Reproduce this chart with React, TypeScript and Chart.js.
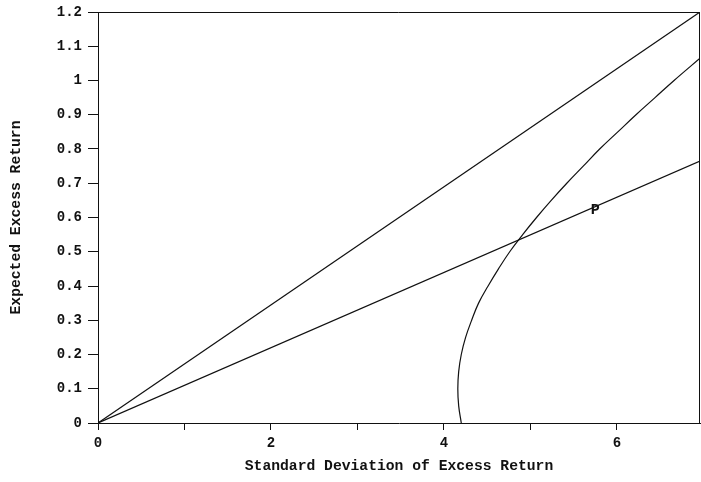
import React, { useEffect, useRef } from "react";
import { Chart, registerables } from "chart.js";

Chart.register(...registerables);

// Efficient-frontier style chart: standard deviation (x) vs expected excess return (y)
const xTickValues = [0, 1, 2, 3, 4, 5, 6];
const xTickLabels = ["0", "", "2", "", "4", "", "6"];
const yTickLabels = ["0", "0.1", "0.2", "0.3", "0.4", "0.5", "0.6", "0.7", "0.8", "0.9", "1", "1.1", "1.2"];

// Upper straight line (tangent / capital market line)
const upperSigma = [0, 6.96];
const upperMu = [0, 1.2];

// Lower straight line through portfolio P
const lowerSigma = [0, 6.96];
const lowerMu = [0, 0.765];

// Frontier curve (hyperbola)
const curveSigma = [4.2, 4.17, 4.16, 4.17, 4.2, 4.25, 4.32, 4.4, 4.51, 4.63, 4.76, 4.91, 5.07, 5.24, 5.42, 5.61, 5.8, 6.01, 6.22, 6.44, 6.66, 6.96];
const curveMu = [0, 0.05, 0.1, 0.15, 0.2, 0.25, 0.3, 0.35, 0.4, 0.45, 0.5, 0.55, 0.6, 0.65, 0.7, 0.75, 0.8, 0.85, 0.9, 0.95, 1.0, 1.065];

// Label "P"
const pointLabel = "P";
const pointLabelSigma = 5.75;
const pointLabelMu = 0.622;

const xMax = 6.96;
const yMax = 1.2;

const xTitle = "Standard Deviation of Excess Return";
const yTitle = "Expected Excess Return";

const toPoints = (xs: number[], ys: number[]) => xs.map((x, i) => ({ x, y: ys[i] }));

const FONT = "'Liberation Mono', 'DejaVu Sans Mono', monospace";
const INK = "#111111";

export default function App() {
  const canvasRef = useRef<HTMLCanvasElement | null>(null);

  useEffect(() => {
    if (!canvasRef.current) return;

    const framePlugin = {
      id: "frameAndLabel",
      afterDatasetsDraw(chart: any) {
        const { ctx, chartArea, scales } = chart;
        ctx.save();
        ctx.strokeStyle = INK;
        ctx.lineWidth = 1;
        ctx.beginPath();
        ctx.moveTo(chartArea.left, chartArea.top + 0.5);
        ctx.lineTo(chartArea.right - 0.5, chartArea.top + 0.5);
        ctx.lineTo(chartArea.right - 0.5, chartArea.bottom);
        ctx.stroke();

        ctx.fillStyle = INK;
        ctx.font = `bold 15px ${FONT}`;
        ctx.textAlign = "center";
        ctx.textBaseline = "middle";
        ctx.fillText(pointLabel, scales.x.getPixelForValue(pointLabelSigma), scales.y.getPixelForValue(pointLabelMu));
        ctx.restore();
      },
    };

    const lineStyle = {
      showLine: true,
      pointRadius: 0,
      borderColor: INK,
      borderWidth: 1.2,
      fill: false,
    };

    const chart = new Chart(canvasRef.current, {
      type: "scatter",
      data: {
        datasets: [
          { label: "upper", data: toPoints(upperSigma, upperMu), tension: 0, ...lineStyle },
          { label: "lower", data: toPoints(lowerSigma, lowerMu), tension: 0, ...lineStyle },
          { label: "frontier", data: toPoints(curveSigma, curveMu), tension: 0.4, ...lineStyle },
        ],
      },
      options: {
        responsive: false,
        animation: false,
        layout: { padding: { top: 12, right: 1, left: 0, bottom: 0 } },
        plugins: {
          legend: { display: false },
          tooltip: { enabled: false },
        },
        scales: {
          x: {
            type: "linear",
            min: 0,
            max: xMax,
            afterFit: (scale: any) => {
              scale.height = 59;
              scale.paddingLeft = 0;
              scale.paddingRight = 0;
            },
            afterBuildTicks: (scale: any) => {
              scale.ticks = xTickValues.map((v) => ({ value: v }));
            },
            ticks: {
              autoSkip: false,
              maxRotation: 0,
              padding: 5,
              color: INK,
              font: { family: FONT, size: 14, weight: "bold" },
              callback: (_v: any, i: number) => xTickLabels[i],
            },
            grid: {
              drawOnChartArea: false,
              drawTicks: true,
              tickLength: 7,
              color: INK,
            },
            border: { display: true, color: INK, width: 1 },
            title: {
              display: true,
              text: xTitle,
              color: INK,
              font: { family: FONT, size: 14.7, weight: "bold" },
              padding: { top: 0, bottom: 7 },
            },
          },
          y: {
            type: "linear",
            min: 0,
            max: yMax,
            afterFit: (scale: any) => {
              scale.width = 98;
              scale.paddingTop = 0;
              scale.paddingBottom = 0;
            },
            afterBuildTicks: (scale: any) => {
              scale.ticks = yTickLabels.map((_l, i) => ({ value: i / 10 }));
            },
            ticks: {
              autoSkip: false,
              padding: 6,
              color: INK,
              font: { family: FONT, size: 14, weight: "bold" },
              callback: (_v: any, i: number) => yTickLabels[i],
            },
            grid: {
              drawOnChartArea: false,
              drawTicks: true,
              tickLength: 10,
              color: INK,
            },
            border: { display: true, color: INK, width: 1 },
            title: {
              display: true,
              text: yTitle,
              color: INK,
              font: { family: FONT, size: 14.7, weight: "bold" },
              padding: { top: 7, bottom: 0 },
            },
          },
        },
      },
      plugins: [framePlugin],
    } as any);

    return () => chart.destroy();
  }, []);

  return (
    <div style={{ position: "fixed", left: 0, top: 0, width: 701, height: 482, background: "#fff" }}>
      <canvas ref={canvasRef} width={701} height={482} style={{ display: "block" }} />
    </div>
  );
}
